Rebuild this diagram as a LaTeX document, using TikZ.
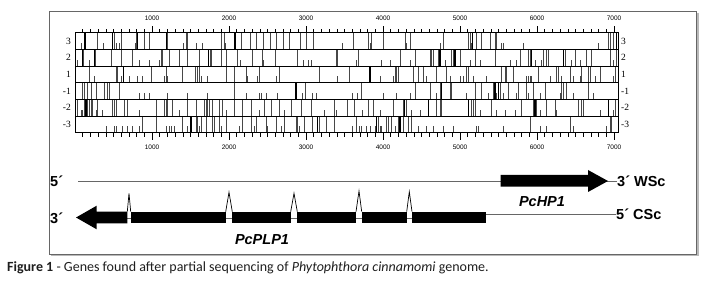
\documentclass[tikz,border=0pt]{standalone}
\usepackage{fontspec}
\setmainfont{Liberation Sans}
\newfontfamily\capfont{Carlito}
\newfontfamily\serffont{Liberation Serif}
\tikzset{
 stopl/.style={draw=black!72, line width=0.9pt},
 stopk/.style={draw=black, line width=1.4pt},
 startl/.style={draw=black!72, line width=0.9pt},
 rowbox/.style={draw=black, line width=0.8pt},
 tickl/.style={draw=black, line width=0.6pt},
 axlab/.style={font=\fontsize{6.5}{7}\selectfont, inner sep=0},
 framelab/.style={font=\serffont\fontsize{9.5}{10}\selectfont, inner sep=0},
 strandlab/.style={font=\bfseries\fontsize{14.5}{16}\selectfont, inner sep=0},
 genelab/.style={font=\bfseries\itshape\fontsize{14.5}{16}\selectfont, inner sep=0},
 strand/.style={draw=black!60, line width=0.8pt},
 exon/.style={fill=black, draw=none},
 intron/.style={draw=black, line width=0.7pt, fill=white},
}
\newcommand\orfrow[7]{%
 \foreach \z in {#2} {\draw[stopl] ({50+\z/3},#1) -- ++(0,16.67);}
 \foreach \z in {#3} {\draw[stopk] ({50+\z/3},#1) -- ++(0,16.67);}
 \foreach \z in {#4} {\draw[startl] ({50+\z/3},#1+16.67) -- ++(0,-6.5);}
 \foreach \z in {#5} {\draw[stopl] ({360+\z/3},#1) -- ++(0,16.67);}
 \foreach \z in {#6} {\draw[stopk] ({360+\z/3},#1) -- ++(0,16.67);}
 \foreach \z in {#7} {\draw[startl] ({360+\z/3},#1+16.67) -- ++(0,-6.5);}
 \draw[rowbox] (75.8,#1) rectangle (618.3,#1+16.67);
}
\begin{document}
\begin{tikzpicture}[x=1pt,y=-1pt]
\useasboundingbox (0,0) rectangle (711,288);
% frame
\draw[gray!55, line width=1.6pt] (50.5,255.2) -- (698.2,255.2) -- (698.2,13.5);
\draw[black!60, line width=0.8pt] (49.3,11.7) rectangle (696.7,254);
% ORF rows
\orfrow{32.7}
 {143,193,213,258,283,298,353,408,413,513,523,575,600,620,640,660,680,700,718,750,770,790,910,955}
 {105,188,263,349,555}
 {93,160,198,208,255,400,440,458,525,877}
 {25,35,70,135,150,250,325,330,350,365,390,405,410,745,752,760}
 {338,770}
 {30,140,240,335,425,430,490,715}
\orfrow{49.37}
 {100,135,183,213,248,333,338,358,388,413,448,480,485,513,528,563,608,638,675,743,858,863,925}
 {98,133,475}
 {83,118,268,298,328,448,570,640,760,775,785,920}
 {120,165,210,215,220,235,275,280,300,345,405,480,505,510,550,560,565,615,645,680,695,750,770}
 {240,285,515,610}
 {65,90,150,255,330,360,450,470,525,545,635,660,760}
\orfrow{66.03}
 {118,198,203,305,348,398,435,443,448,530,553,588,628,688,808,898}
 {220}
 {133,213,238,263,278,343,348,353,453,473,593,623,678,863}
 {105,110,115,160,175,190,230,260,320,325,425,435,440,460,535,590,595,630,665,685,690,720,765}
 {30}
 {60,100,190,200,270,300,310,340,380,500,505,510,515,570,605,640,660,705,760}
\orfrow{82.7}
 {98,103,113,123,138,163,173,178,208,553,765,935}
 {738}
 {268,283,298,353,413,473,588,628,633,648,683,758,788,798,908,923}
 {5,165,210,240,270,275,345,365,400,420,445,475,500,520,555,605,610,620,685}
 {245,405,415}
 {70,110,150,230,320,385,410,430,470,505,540,600,640,700}
\orfrow{99.37}
 {83,103,113,118,123,128,143,188,193,198,223,233,318,343,348,353,368,413,438,463,468,473,478,488,508,518,553,578,603,643,663,688,723,753,783,853,893,913}
 {108}
 {93,98,138,158,198,268,388,528,628,703,823,858,938}
 {25,40,100,130,140,230,240,245,335,340,345,395,485,520,530,560,585,655,665,670,765}
 {133,205,325,525,745}
 {60,155,180,230,360,410,435,465,540,590,720,760}
\orfrow{116.03}
 {278,318,398,438,443,453,468,488,493,508,528,578,603,618,648,678,703,738,743,763,788,808,828,853,918}
 {423,803}
 {168,193,198,218,233,248,268,348,358,363,373,413,448,468,513,528,568,613,653,693,748,808,908,928}
 {55,80,85,95,115,130,145,155,510,630,750,755}
 {50,120}
 {5,20,30,45,60,65,105,175,200,220,250,280,350,355,430,510,540,560,640,740}
% ticks
\foreach \i in {1,...,70}{
  \pgfmathtruncatemacro\mm{mod(\i,10)}
  \ifnum\mm=0 \def\tl{7}\else\def\tl{4}\fi
  \draw[tickl] ({75+\i*7.7},32.7) -- ++(0,-\tl);
  \draw[tickl] ({75+\i*7.7},132.7) -- ++(0,\tl);
}
\foreach \k in {1,...,7}{
  \node[axlab] (tt\k) at ({75+\k*77},18.5) {\k000};
  \node[axlab] (tb\k) at ({75+\k*77},147) {\k000};
}
% frame labels
\foreach \lab [count=\r from 0] in {3,2,1,-1,-2,-3}{
  \node[framelab, anchor=east] (fl\r) at (71,{41+\r*16.67}) {\lab};
  \node[framelab, anchor=west] (fr\r) at (621,{41+\r*16.67}) {\lab};
}
% strands
\node[strandlab, anchor=west] (w5) at (50,181) {5´};
\node[strandlab, anchor=west] (w3) at (617,181) {3´ WSc};
\node[strandlab, anchor=west] (c3) at (50,218) {3´};
\node[strandlab, anchor=west] (c5) at (616,214.5) {5´ CSc};
\coordinate (ws) at (78,181);
\coordinate (cs) at (486,214.5);
\draw[strand] (ws) -- (w3.west);
\draw[strand] (cs) -- (c5.west);
% PcHP1
\fill[exon] (500.7,175) -- (588,175) -- (588,170) -- (608,181) -- (588,192) -- (588,186.7) -- (500.7,186.7) -- cycle;
\node[genelab] (hp) at (542,201.7) {PcHP1};
% PcPLP1
\draw[black!60, line width=0.7pt] (127,218) -- (413,218);
\fill[exon] (76,217.5) -- (96.7,205.7) -- (96.7,211.7) -- (127.3,211.7) -- (127.3,223.3) -- (96.7,223.3) -- (96.7,229.3) -- cycle;
\fill[exon] (130.7,211.7) rectangle (225.7,223.3);
\fill[exon] (232.3,211.7) rectangle (290.7,223.3);
\fill[exon] (297.3,211.7) rectangle (356,223.3);
\fill[exon] (361.7,211.7) rectangle (406.7,223.3);
\fill[exon] (412,211.7) rectangle (486,223.3);
\draw[intron] (127.3,211.7) -- (129,193.3) -- (130.7,211.7);
\draw[intron] (225.7,211.7) -- (229,192.3) -- (232.3,211.7);
\draw[intron] (290.7,211.7) -- (294,193.3) -- (297.3,211.7);
\draw[intron] (356,211.7) -- (359,191) -- (361.7,211.7);
\draw[intron] (406.7,211.7) -- (409.3,191.7) -- (412,211.7);
\node[genelab] (plp) at (262,240) {PcPLP1};
% caption
\node[anchor=west, inner sep=0, font=\capfont\fontsize{14}{16}\selectfont, text=black!88] (cap) at (7,268) {\textbf{Figure 1} - Genes found after partial sequencing of \textit{Phytophthora cinnamomi} genome.};
\end{tikzpicture}
\end{document}
